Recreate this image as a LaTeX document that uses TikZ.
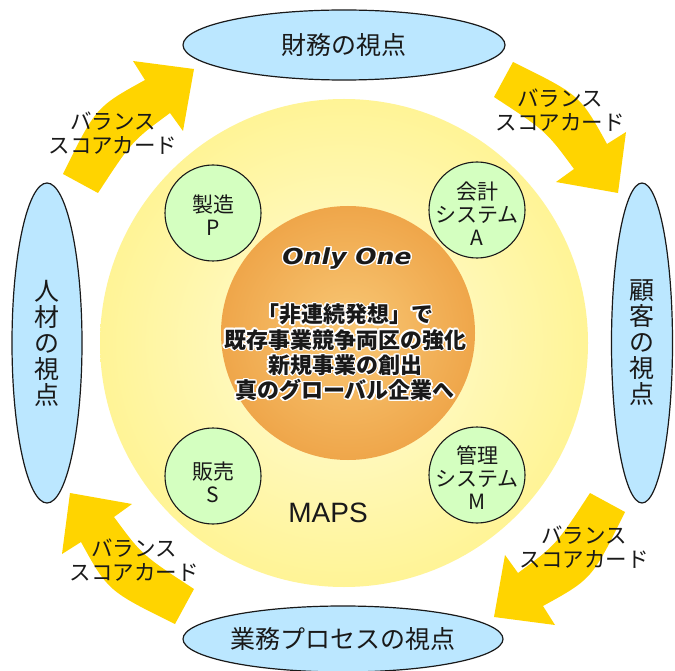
\documentclass[tikz,border=0pt]{standalone}
\usepackage{fontspec}
\usepackage{contour}
\contourlength{1.3pt}
\setmainfont{Liberation Sans}
\newfontfamily\jp{Noto Sans CJK JP}
\newfontfamily\dv{DejaVu Sans}
\usetikzlibrary{shapes.geometric}
\definecolor{arrowyellow}{RGB}{255,212,0}
\definecolor{ellblue}{RGB}{187,231,255}
\definecolor{circgreen}{RGB}{212,255,192}
\definecolor{yin}{RGB}{255,252,218}
\definecolor{yout}{RGB}{255,244,150}
\definecolor{oin}{RGB}{248,200,118}
\definecolor{oout}{RGB}{239,166,74}
\definecolor{ink}{RGB}{25,25,25}
\newcommand\wc[1]{\contour{white}{#1}}
\begin{document}
\begin{tikzpicture}[x=1pt,y=-1pt,
  view/.style={ellipse, draw=ink, line width=1.2pt, fill=ellblue, inner sep=0pt,
    font=\jp\fontsize{25}{26}\selectfont, text=ink, align=center},
  unit/.style={circle, draw=ink, line width=1.1pt, fill=circgreen, inner sep=0pt, minimum size=96pt},
  unittext/.style={font=\jp\fontsize{21}{23}\selectfont, text=ink, align=center, inner sep=0pt},
  bsc/.style={font=\jp\fontsize{21.5}{24.5}\selectfont, text=ink, align=center, inner sep=0pt},
  yarrow/.style={fill=arrowyellow}
]
\useasboundingbox (0,0) rectangle (675,671);
\fill[white] (0,0) rectangle (675,671);

% big circles
\shade[inner color=yin, outer color=yout] (344,343) circle[radius=244];
\shade[inner color=oin, outer color=oout] (348,333) circle[radius=127];

% balanced scorecard arrows (same shape, rotated about the centre)
\foreach \a in {0,-90,-180,90}{
  \fill[yarrow, rotate around={\a:(344,343)}]
    (63,174) .. controls (96,107) .. (145,80) -- (133,61) -- (194,69)
    -- (183,131) -- (170,113) .. controls (132,141) .. (98,193) -- cycle;
}

% viewpoint ellipses
\node[view, minimum width=322pt, minimum height=70pt] (fin) at (344,45) {財務の視点};
\node[view, minimum width=320pt, minimum height=66pt] (proc) at (343,639) {業務プロセスの視点};
\node[view, minimum width=70pt, minimum height=320pt] (hr) at (47,343) {人\\材\\の\\視\\点};
\node[view, minimum width=61pt, minimum height=320pt] (cust) at (642,343) {顧\\客\\の\\視\\点};

% arrow labels
\node[bsc] (l1) at (113,133) {バランス\\スコアカード};
\node[bsc] (l2) at (560,110) {バランス\\スコアカード};
\node[bsc] (l3) at (584,547) {バランス\\スコアカード};
\node[bsc] (l4) at (134,560) {バランス\\スコアカード};

% unit circles
\node[unit] (cp) at (213,213) {};
\node[unit] (ca) at (477,210) {};
\node[unit] (cs) at (213,476) {};
\node[unit] (cm) at (477,475) {};
\node[unittext] (tp) at (213,215) {製造\\P};
\node[unittext] (ta) at (477,214) {会計\\システム\\A};
\node[unittext] (ts) at (213,482) {販売\\S};
\node[unittext] (tm) at (477,478) {管理\\システム\\M};

% centre text
\node[inner sep=0pt, text=ink, font=\dv\bfseries\itshape\fontsize{22}{24}\selectfont] (only) at (347,259)
  {\scalebox{1.14}[1]{\wc{Only One}}};
\node[inner sep=0pt, text=ink, align=center, font=\jp\bfseries\fontsize{22}{25.3}\selectfont] (msg) at (345,353)
  {\wc{「非連続発想」で}\\\wc{既存事業競争両区の強化}\\\wc{新規事業の創出}\\\wc{真のグローバル企業へ}};

\node[inner sep=0pt, text=ink, font=\fontsize{28}{30}\selectfont] (maps) at (328,513) {MAPS};
\end{tikzpicture}
\end{document}
